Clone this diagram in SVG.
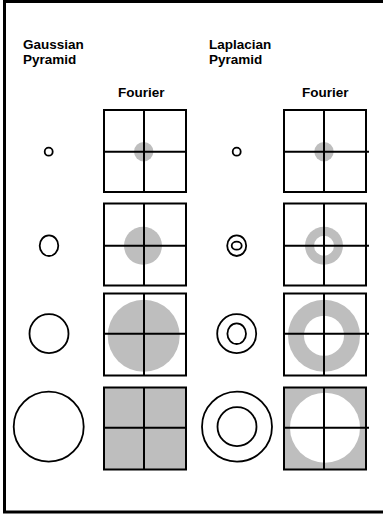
<svg xmlns="http://www.w3.org/2000/svg" width="383" height="514" viewBox="0 0 383 514">
<style>
.t{font-family:"Liberation Sans",Arial,sans-serif;font-weight:bold;font-size:13.5px;fill:#000}
.o{fill:none;stroke:#000;stroke-width:1.8}
.box{fill:none;stroke:#000;stroke-width:2}
.ln{stroke:#000;stroke-width:2}
.g{fill:#bebebe}
.w{fill:#fff}
</style>
<rect width="383" height="514" fill="#fff"/>
<g id="frame">
<rect x="4.5" y="1.5" width="400" height="510.5" fill="none" stroke="#000" stroke-width="3"/>
</g>
<g id="labels">
<text class="t" x="23" y="49">Gaussian</text>
<text class="t" x="23" y="64">Pyramid</text>
<text class="t" x="209" y="49">Laplacian</text>
<text class="t" x="209" y="64">Pyramid</text>
<text class="t" x="118" y="97">Fourier</text>
<text class="t" x="302" y="97">Fourier</text>
</g>
<g id="gauss-spatial">
<circle class="o" cx="48.7" cy="151.7" r="4"/>
<ellipse class="o" cx="49" cy="245.7" rx="9.3" ry="10.3"/>
<circle class="o" cx="49" cy="333.7" r="19.5"/>
<circle class="o" cx="48.7" cy="426.7" r="35"/>
</g>
<g id="gauss-fourier">
<circle class="g" cx="143.7" cy="151.7" r="9.7"/>
<circle class="g" cx="143" cy="245.7" r="19"/>
<circle class="g" cx="143.7" cy="335.7" r="36"/>
<rect class="g" x="104" y="387.5" width="82" height="82"/>
<rect class="box" x="104" y="110" width="82" height="82"/>
<line class="ln" x1="144" y1="110" x2="144" y2="192"/><line class="ln" x1="104" y1="151.7" x2="186" y2="151.7"/>
<rect class="box" x="104" y="203.5" width="82" height="82"/>
<line class="ln" x1="144" y1="203.5" x2="144" y2="285.5"/><line class="ln" x1="104" y1="245.7" x2="186" y2="245.7"/>
<rect class="box" x="104" y="293.5" width="82" height="82"/>
<line class="ln" x1="144" y1="293.5" x2="144" y2="375.5"/><line class="ln" x1="104" y1="333.7" x2="186" y2="333.7"/>
<rect class="box" x="104" y="387.5" width="82" height="82"/>
<line class="ln" x1="144" y1="387.5" x2="144" y2="469.5"/><line class="ln" x1="104" y1="427.7" x2="186" y2="427.7"/>
</g>
<g id="lap-spatial">
<circle class="o" cx="236.7" cy="151.7" r="4"/>
<ellipse class="o" cx="236.7" cy="245.7" rx="9.5" ry="10.3"/>
<ellipse class="o" cx="236.7" cy="245.7" rx="5" ry="4"/>
<circle class="o" cx="236.7" cy="333.7" r="19.5"/>
<ellipse class="o" cx="236.7" cy="333.7" rx="9.3" ry="10.3"/>
<circle class="o" cx="237" cy="426.7" r="35"/>
<circle class="o" cx="237" cy="426.7" r="19.5"/>
</g>
<g id="lap-fourier">
<circle class="g" cx="324" cy="151.7" r="9.7"/>
<circle class="g" cx="324" cy="245.7" r="19"/>
<circle class="w" cx="324" cy="245.7" r="10"/>
<circle class="g" cx="324" cy="335.7" r="36"/>
<circle class="w" cx="324" cy="335.7" r="20"/>
<rect class="g" x="284" y="387.5" width="82" height="82"/>
<circle class="w" cx="325" cy="427.7" r="35"/>
<rect class="box" x="284" y="110" width="82" height="82"/>
<line class="ln" x1="324" y1="110" x2="324" y2="192"/><line class="ln" x1="284" y1="151.7" x2="369" y2="151.7"/>
<rect class="box" x="284" y="203.5" width="82" height="82"/>
<line class="ln" x1="324" y1="203.5" x2="324" y2="285.5"/><line class="ln" x1="284" y1="245.7" x2="369" y2="245.7"/>
<rect class="box" x="284" y="293.5" width="82" height="82"/>
<line class="ln" x1="324" y1="293.5" x2="324" y2="375.5"/><line class="ln" x1="284" y1="333.7" x2="369" y2="333.7"/>
<rect class="box" x="284" y="387.5" width="82" height="82"/>
<line class="ln" x1="324" y1="387.5" x2="324" y2="469.5"/><line class="ln" x1="284" y1="427.7" x2="369" y2="427.7"/>
</g>
</svg>
